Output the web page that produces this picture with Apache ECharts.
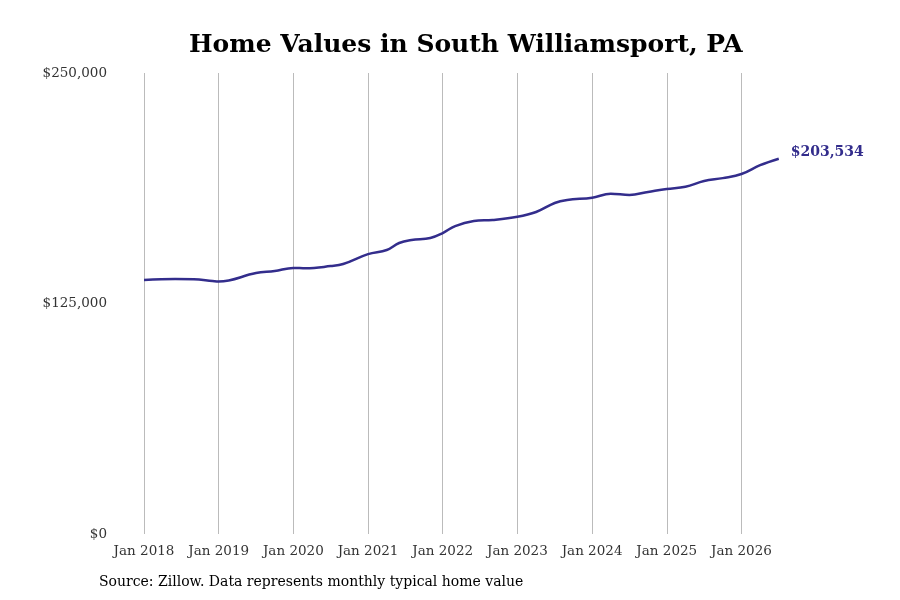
<!DOCTYPE html>
<html lang="en">
<head>
<meta charset="UTF-8">
<title>Home Values in South Williamsport, PA</title>
<script src="https://cdn.jsdelivr.net/npm/echarts@6/dist/echarts.min.js"></script>
</head>
<body style="margin:0">
<div id="main" style="width:900px;height:600px;"></div>
<script>
// months counted from Jan 2018
const months = [0, 5, 8, 11, 12, 18, 21, 24, 26, 30, 32, 36, 39, 41, 43, 46, 48, 50, 53, 56, 60, 63, 66, 68, 72, 75, 78, 81, 84, 87, 90, 93, 96, 99, 102];
const values = [137.7, 138.3, 138.2, 137.2, 136.9, 141.5, 142.6, 144.3, 144.1, 145.3, 146.4, 151.8, 154.0, 157.8, 159.4, 160.5, 163.2, 167.0, 169.7, 170.3, 172.0, 174.6, 179.5, 181.1, 182.4, 184.5, 183.9, 185.5, 187.1, 188.3, 191.4, 193.0, 195.2, 200.0, 203.534];
const yTicks = [0, 125000, 250000];

const myChart = echarts.init(document.getElementById('main'));
const font = 'DejaVu Serif';
myChart.setOption({
    backgroundColor: '#fff',
    textStyle: { fontFamily: font },
    title: {
        text: 'Home Values in South Williamsport, PA',
        left: 184,
        top: 28,
        textStyle: { fontFamily: font, fontSize: 25, fontWeight: 'bold', color: '#000' }
    },
    graphic: [{
        type: 'text', left: 99, top: 575,
        style: { text: 'Source: Zillow. Data represents monthly typical home value', font: '14px "DejaVu Serif"', fill: '#000' }
    }],
    grid: { left: 144, right: 115, top: 73, bottom: 66 },
    xAxis: {
        type: 'value', min: 0, max: 103, interval: 12,
        axisLine: { show: false }, axisTick: { show: false },
        splitLine: { show: true, showMaxLine: false, lineStyle: { color: '#bbb', width: 1 } },
        axisLabel: {
            color: '#333', fontSize: 13.5, fontFamily: font, margin: 10, showMaxLabel: false,
            formatter: v => (v % 12 === 0) ? 'Jan ' + (2018 + v / 12) : ''
        }
    },
    yAxis: {
        type: 'value', min: 0, max: 250000, interval: 125000,
        axisLine: { show: false }, axisTick: { show: false }, splitLine: { show: false },
        axisLabel: {
            color: '#333', fontSize: 13.5, fontFamily: font, margin: 37,
            formatter: v => '$' + v.toLocaleString('en-US')
        }
    },
    series: [{
        type: 'line',
        data: months.map((m, i) => [m, Math.round(values[i] * 1000)]),
        smooth: 0.4, showSymbol: false, symbol: 'none',
        lineStyle: { color: '#332d8c', width: 2.5 },
        endLabel: {
            show: true, distance: 12, color: '#332d8c', fontWeight: 'bold', fontSize: 14, fontFamily: font,
            formatter: p => '$' + p.value[1].toLocaleString('en-US'),
            offset: [0, -6]
        },
        animation: false
    }]
});
</script>
</body>
</html>
